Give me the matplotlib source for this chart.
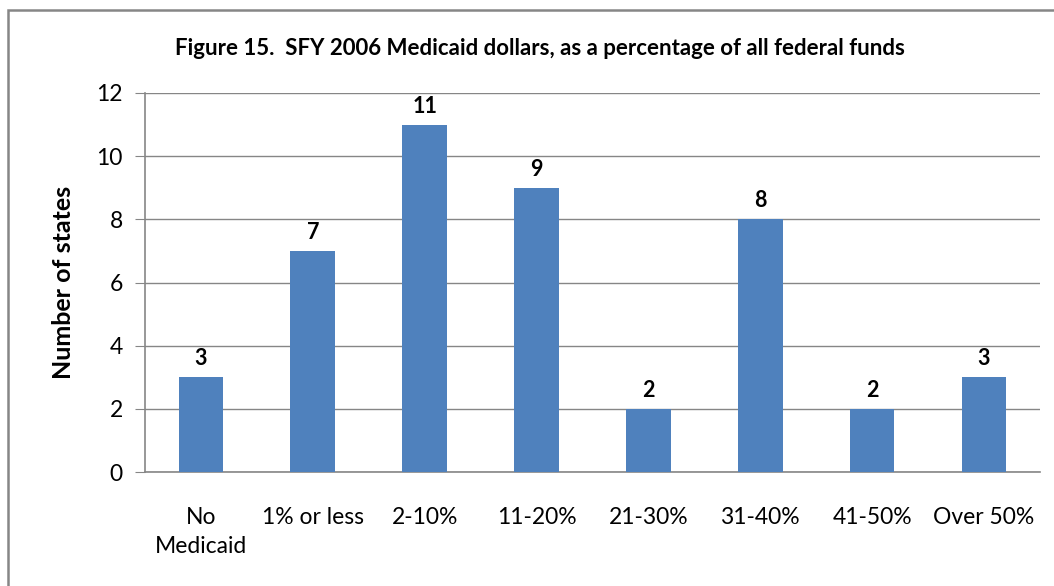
import matplotlib.pyplot as plt
from matplotlib.patches import Rectangle

categories = ["No\nMedicaid", "1% or less", "2-10%", "11-20%", "21-30%", "31-40%", "41-50%", "Over 50%"]
states = [3, 7, 11, 9, 2, 8, 2, 3]

plt.rcParams['font.family'] = ['Lato', 'DejaVu Sans']

fig = plt.figure(figsize=(10.54, 5.86), dpi=100)
ax = fig.add_axes([0.1376, 0.1945, 0.849, 0.6468])

x = range(len(categories))
ax.bar(x, states, width=0.4, color="#4F81BD", zorder=3)
for i, v in enumerate(states):
    ax.text(i, v + 0.25, str(v), ha="center", va="bottom", fontsize=15.5, fontweight="bold")

ax.set_xlim(-0.5, len(categories) - 0.5)
ax.set_ylim(0, 12)
ax.set_yticks(range(0, 13, 2))
ax.set_xticks(list(x))
ax.set_xticklabels(categories, fontsize=16.5, linespacing=1.5)
ax.tick_params(axis="y", labelsize=16.5, length=7, color="#868686", pad=9)
ax.tick_params(axis="x", length=0, pad=25)
ax.grid(axis="y", color="#868686", linewidth=1, zorder=0)
for s in ["top", "right"]:
    ax.spines[s].set_visible(False)
for s in ["left", "bottom"]:
    ax.spines[s].set_color("#868686")
    ax.spines[s].set_linewidth(1.2)

ax.set_ylabel("Number of states", fontsize=18, fontweight="bold", labelpad=15)
fig.text(0.512, 0.918, "Figure 15.  SFY 2006 Medicaid dollars, as a percentage of all federal funds",
         ha="center", va="center", fontsize=16, fontweight="bold")

fig.patches.append(Rectangle((0.008, -0.1), 1.2, 1.083, transform=fig.transFigure,
                             fill=False, edgecolor="#868686", linewidth=1.8))

fig.savefig("out.png", dpi=100)
